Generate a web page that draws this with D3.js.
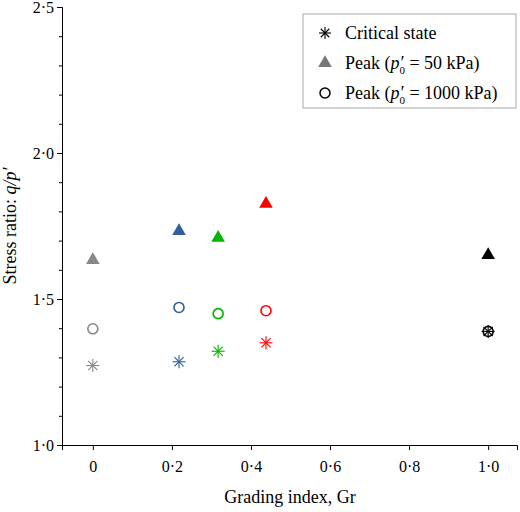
<!DOCTYPE html><html><head><script src="https://cdn.jsdelivr.net/npm/d3@7"></script>
<style>body{margin:0;background:#fff}svg text{font-family:"Times New Roman","Liberation Serif","DejaVu Serif",serif !important}</style></head><body>
<svg id="c" width="520" height="512" font-family="Times New Roman, Liberation Serif, serif"></svg>
<script>
const grading=[0,0.218,0.317,0.438,1.0];
const colors=["#888888","#2e5f9a","#00b400","#ff0000","#000000"];
const critical=[1.272,1.285,1.321,1.350,1.389];
const peak50=[1.637,1.736,1.713,1.829,1.654];
const peak1000=[1.398,1.471,1.450,1.460,1.389];
const xTicks=[0,0.2,0.4,0.6,0.8,1.0];
const yTicks=[1.0,1.5,2.0,2.5];
const svg=d3.select("#c");
const x=d3.scaleLinear().domain([-0.078,1.073]).range([62,517]);
const y=d3.scaleLinear().domain([1.0,2.5]).range([445,7]);
const fmt=d=>d===0?"0":d.toFixed(1).replace(".","·");
const gx=svg.append("g").attr("transform","translate(0,445)").call(d3.axisBottom(x).tickValues(xTicks).tickFormat(fmt).tickSizeOuter(0).tickSize(5));
const gy=svg.append("g").attr("transform","translate(62,0)").call(d3.axisLeft(y).tickValues(d3.range(10,26).map(d=>d/10)).tickFormat(d=>yTicks.some(t=>Math.abs(t-d)<1e-6)?fmt(d):"").tickSizeOuter(0).tickSize(5));
gy.selectAll(".tick line").attr("x2",d=>yTicks.some(t=>Math.abs(t-d)<1e-6)?-5:-3);
[gx,gy].forEach(g=>{g.attr("font-family",null);g.selectAll("text").attr("font-size",16).attr("fill","#000");g.selectAll("line,path").attr("stroke","#000");});
gx.selectAll("text").attr("dy","1.2em");
svg.append("text").attr("x",290).attr("y",503).attr("text-anchor","middle").attr("font-size",18).text("Grading index, Gr");
const yl=svg.append("text").attr("transform","translate(16,226) rotate(-90)").attr("text-anchor","middle").attr("font-size",18);
yl.append("tspan").text("Stress ratio: ");yl.append("tspan").attr("font-style","italic").text("q/p′");
const star=(g,cx,cy,c,r)=>{for(let i=0;i<4;i++){const a=i*Math.PI/4;g.append("line").attr("x1",cx-r*Math.cos(a)).attr("y1",cy-r*Math.sin(a)).attr("x2",cx+r*Math.cos(a)).attr("y2",cy+r*Math.sin(a)).attr("stroke",c).attr("stroke-width",1.1);}};
const tri=d3.symbol().type(d3.symbolTriangle).size(80);
const g=svg.append("g");
grading.forEach((gr,i)=>{
 star(g,x(gr),y(critical[i]),colors[i],6.5);
 g.append("circle").attr("cx",x(gr)).attr("cy",y(peak1000[i])).attr("r",5).attr("fill","none").attr("stroke",colors[i]).attr("stroke-width",1.6);
 g.append("path").attr("d",tri).attr("transform",`translate(${x(gr)},${y(peak50[i])+1})`).attr("fill",colors[i]);
});
const L=svg.append("g");
L.append("rect").attr("x",303).attr("y",14).attr("width",213).attr("height",94).attr("fill","#fff").attr("stroke","#aaa");
star(L,325,33,"#000",6);
L.append("path").attr("d",tri).attr("transform","translate(325,63)").attr("fill","#777");
L.append("circle").attr("cx",325).attr("cy",93).attr("r",5).attr("fill","none").attr("stroke","#000").attr("stroke-width",1.5);
const lt=(yy)=>L.append("text").attr("x",345).attr("y",yy).attr("font-size",18);
lt(39).text("Critical state");
const p=(t,v)=>{t.append("tspan").text("Peak (");t.append("tspan").attr("font-style","italic").text("p′");t.append("tspan").attr("font-size",11).attr("dx",-4).attr("dy",5).text("0");t.append("tspan").attr("dy",-5).text(" = "+v+")");};
p(lt(69),"50 kPa");p(lt(99),"1000 kPa");
</script></body></html>
